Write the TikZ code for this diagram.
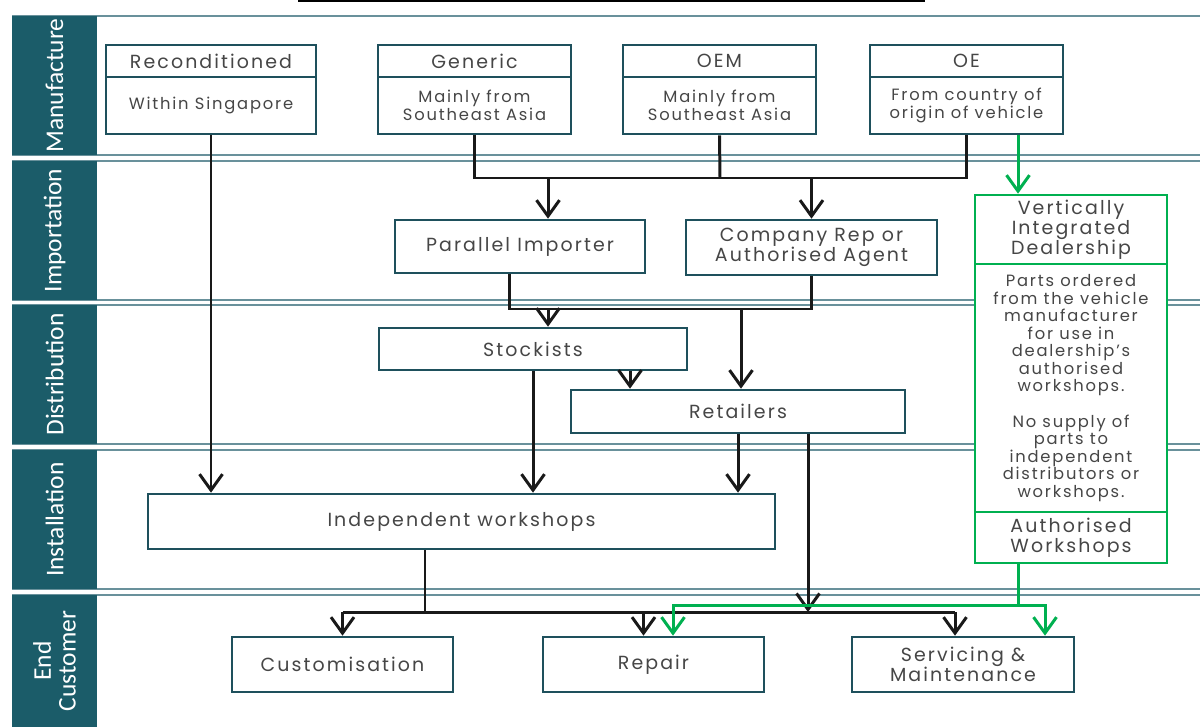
\documentclass[tikz,border=0pt]{standalone}
\usepackage{fontspec}
\setmainfont{Poppins}[LetterSpace=11]
\newfontfamily\bandfont{Carlito}
\usetikzlibrary{arrows.meta}
\definecolor{bandfill}{RGB}{27,92,105}
\definecolor{boxline}{RGB}{30,80,92}
\definecolor{bandline}{RGB}{105,145,155}
\definecolor{dealgreen}{RGB}{0,176,80}
\definecolor{boxtext}{RGB}{70,70,70}
\begin{document}
\begin{tikzpicture}[
    x = 0.02cm, y = -0.02cm, % one unit = one pixel of the layout
    > = {Straight Barb[length=0.32cm, width=0.46cm]}, % open arrow head
    box/.style = {draw=boxline, line width=1.5pt, fill=white, text=boxtext,
        align=center, inner sep=0pt, font=\fontsize{10.8}{11.5}\selectfont},
    small/.style = {font=\fontsize{9.3}{10}\selectfont},
    greenbox/.style = {box, draw=dealgreen},
    band/.style = {fill=bandfill, text=white, rotate=90, inner sep=0pt,
        align=center, minimum height=1.7cm,
        font=\bandfont\fontsize{14.5}{14}\selectfont},
    sep/.style = {bandline, line width=0.9pt},
    link/.style = {line width=1.7pt, black!90},
    flow/.style = {link, ->},
    greenlink/.style = {link, dealgreen},
    greenflow/.style = {flow, dealgreen}
]
\useasboundingbox (0,0) rectangle (1200,727);

% Bands
\draw[black, line width=1pt] (298,1) -- (925,1);
\foreach \y in {16,155,161,300,305,444,450,589,595}
    \draw[sep] (12,\y) -- (1200,\y);
\node[band, minimum width=2.78cm] (manuf) at (54.5,85.5) {Manufacture};
\node[band, minimum width=2.78cm] (import) at (54.5,230.5) {Importation};
\node[band, minimum width=2.78cm] (distr) at (54.5,374.5) {Distribution};
\node[band, minimum width=2.78cm] (install) at (54.5,519.5) {Installation};
\node[band, minimum width=2.64cm] (endcust) at (54.5,661) {End\\Customer};

% Nodes
\node[box, minimum width=4.2cm, minimum height=0.64cm] (reconH) at (211,61) {Reconditioned};
\node[box, small, minimum width=4.2cm, minimum height=1.14cm] (reconB) at (211,105.5) {Within Singapore};
\node[box, minimum width=3.86cm, minimum height=0.64cm] (genH) at (474.5,61) {Generic};
\node[box, small, minimum width=3.86cm, minimum height=1.14cm] (genB) at (474.5,105.5) {Mainly from\\Southeast Asia};
\node[box, minimum width=3.86cm, minimum height=0.64cm] (oemH) at (719.5,61) {OEM};
\node[box, small, minimum width=3.86cm, minimum height=1.14cm] (oemB) at (719.5,105.5) {Mainly from\\Southeast Asia};
\node[box, minimum width=3.86cm, minimum height=0.64cm] (oeH) at (966.5,61) {OE};
\node[box, small, minimum width=3.86cm, minimum height=1.14cm] (oeB) at (966.5,105.5) {From country of\\origin of vehicle};

\node[box, minimum width=5cm, minimum height=1.06cm] (pi) at (520,246.5) {Parallel Importer};
\node[box, minimum width=5.02cm, minimum height=1.1cm] (rep) at (811.5,247.5) {Company Rep or\\Authorised Agent};
\node[box, minimum width=6.16cm, minimum height=0.84cm] (stock) at (533,349) {Stockists};
\node[box, minimum width=6.68cm, minimum height=0.86cm] (retail) at (738,411.5) {Retailers};
\node[box, minimum width=12.54cm, minimum height=1.1cm] (indep) at (461.5,521.5) {Independent workshops};

\node[box, minimum width=4.42cm, minimum height=1.1cm] (custom) at (342.5,664.5) {Customisation};
\node[box, minimum width=4.42cm, minimum height=1.1cm] (repair) at (653.5,664.5) {Repair};
\node[box, minimum width=4.44cm, minimum height=1.1cm] (service) at (963,664.5) {Servicing \&\\Maintenance};

\node[greenbox, minimum width=3.84cm, minimum height=1.38cm] (vidH) at (1071,229.5) {Vertically\\Integrated\\Dealership};
\node[greenbox, small, minimum width=3.84cm, minimum height=4.96cm] (vidB) at (1071,388)
    {Parts ordered\\from the vehicle\\manufacturer\\for use in\\dealership's\\authorised\\workshops.\\[10pt]No supply of\\parts to\\independent\\distributors or\\workshops.};
\node[greenbox, minimum width=3.84cm, minimum height=1.02cm] (vidF) at (1071,537.5) {Authorised\\Workshops};

% Junctions
\coordinate (mjoin) at (720,178);
\coordinate (piIn) at (548,178);
\coordinate (djoin) at (741,309);
\coordinate (cjoin) at (425,612);
\coordinate (rjoin) at (808,612);
\coordinate (gjoin) at (1018,605);

% Edges
\draw[flow] (reconB.south) -- (reconB.south |- indep.north);
\draw[link] (genB.south) |- (mjoin) -| (oeB.south);
\draw[link] (oemB.south) -- (mjoin);
\draw[flow] (piIn) -- (piIn |- pi.north);
\draw[flow] (rep.north |- mjoin) -- (rep.north);

\draw[link] ([xshift=-0.22cm]pi.south) |- (djoin) -| (rep.south);
\draw[flow] (piIn |- djoin) -- (piIn |- stock.north);
\draw[flow] (djoin) -- (djoin |- retail.north);
\draw[flow] (stock.south -| 630,0) -- (retail.north -| 630,0);

\draw[flow] (stock.south) -- (stock.south |- indep.north);
\draw[flow] (retail.south) -- (retail.south |- indep.north);
\draw[flow] (retail.south -| rjoin) -- (rjoin);

\draw[link] (indep.south -| cjoin) -- (cjoin);
\draw[link] (custom.north |- cjoin) -- ([xshift=-0.16cm]service.north |- cjoin);
\draw[flow] (custom.north |- cjoin) -- (custom.north);
\draw[flow] ([xshift=-0.2cm]repair.north |- cjoin) -- ([xshift=-0.2cm]repair.north);
\draw[flow] ([xshift=-0.16cm]service.north |- cjoin) -- ([xshift=-0.16cm]service.north);

\draw[greenflow] (oeB.south -| gjoin) -- (vidH.north -| gjoin);
\draw[greenlink] (vidF.south -| gjoin) -- (gjoin);
\draw[greenflow] (gjoin) -| (repair.north -| 673,0);
\draw[greenflow] (gjoin) -| (service.north -| 1045,0);

\end{tikzpicture}
\end{document}
